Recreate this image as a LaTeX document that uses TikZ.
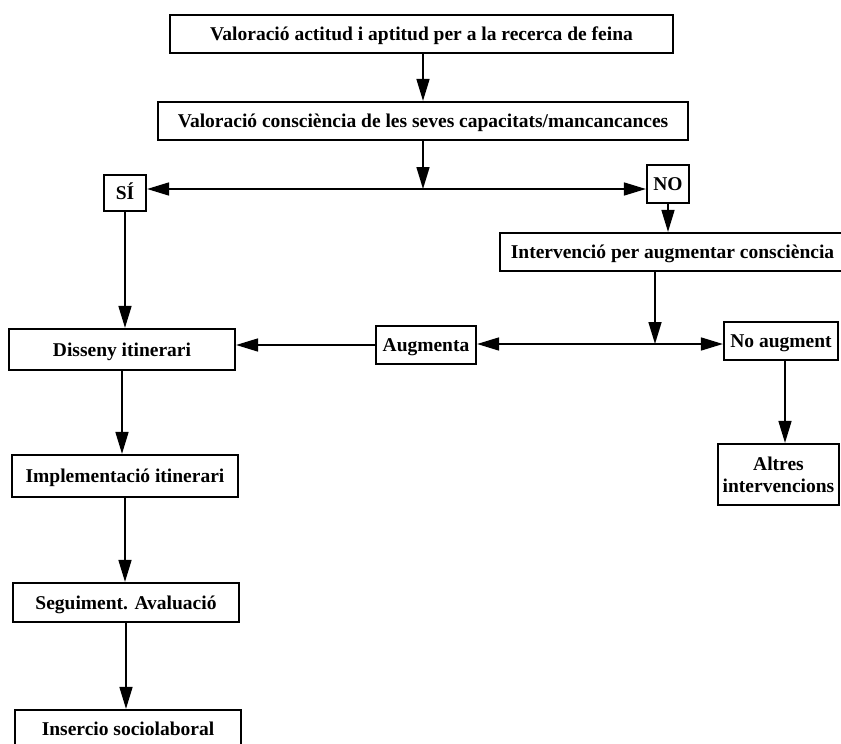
\documentclass[tikz,border=0pt]{standalone}
\usepackage{fontspec}
\setmainfont{Liberation Serif}
\usetikzlibrary{arrows.meta}
\begin{document}
\begin{tikzpicture}[x=1pt,y=1pt,
  frame/.style={draw, line width=2.2pt, inner sep=0pt, align=center,
    font=\fontsize{19.5}{22}\selectfont\bfseries},
  box/.style={frame, text height=16pt, text depth=3pt},
  arr/.style={line width=1.6pt, -{Triangle[length=22pt,width=13pt]}}]
\useasboundingbox (0,0) rectangle (841,-744);
% boxes
\node[box, minimum width=503, minimum height=38] (b1) at (421.5,-34) {Valoració actitud i aptitud per a la recerca de feina};
\node[box, minimum width=530, minimum height=38] (b2) at (423,-121) {Valoració consciència de les seves capacitats/mancancances};
\node[box, minimum width=42, minimum height=36] (si) at (125,-193) {SÍ};
\node[box, minimum width=42, minimum height=38] (no) at (668,-184) {NO};
\node[box, minimum width=345, minimum height=38] (interv) at (672.5,-252) {Intervenció per augmentar consciència};
\node[box, minimum width=100, minimum height=38] (aug) at (426,-345) {Augmenta};
\node[box, minimum width=114, minimum height=38] (noaug) at (781,-341) {No augment};
\node[frame, minimum width=121, minimum height=61] (altres) at (778.5,-474.5) {Altres\\intervencions};
\node[box, minimum width=226, minimum height=41] (diss) at (122,-349.5) {Disseny itinerari};
\node[box, minimum width=226, minimum height=42] (impl) at (125,-476) {Implementació itinerari};
\node[box, minimum width=226, minimum height=39] (seg) at (126,-602.5) {Seguiment. Avaluació};
\node[box, minimum width=226, minimum height=38] (ins) at (128,-729) {Insercio sociolaboral};
% branching points and connector columns
\coordinate (j1) at (423,-189);
\coordinate (j2) at (655,-344);
\coordinate (xa) at (423,0);
\coordinate (xna) at (785,0);
% connectors
\draw[arr] (b1.south -| xa) -- (b2.north -| xa);
\draw[arr] (b2.south -| xa) -- (j1);
\draw[arr] (j1) -- (si.east |- j1);
\draw[arr] (j1) -- (no.west |- j1);
\draw[arr] (no.south) -- (no.south |- interv.north);
\draw[arr] (interv.south -| j2) -- (j2);
\draw[arr] (j2) -- (aug.east |- j2);
\draw[arr] (j2) -- (noaug.west |- j2);
\draw[arr] (noaug.south -| xna) -- (altres.north -| xna);
\draw[arr] (aug.west) -- (diss.east |- aug.west);
\draw[arr] (si.south) -- (si.south |- diss.north);
\draw[arr] (diss.south) -- (diss.south |- impl.north);
\draw[arr] (impl.south) -- (impl.south |- seg.north);
\draw[arr] (seg.south) -- (seg.south |- ins.north);
\end{tikzpicture}
\end{document}
